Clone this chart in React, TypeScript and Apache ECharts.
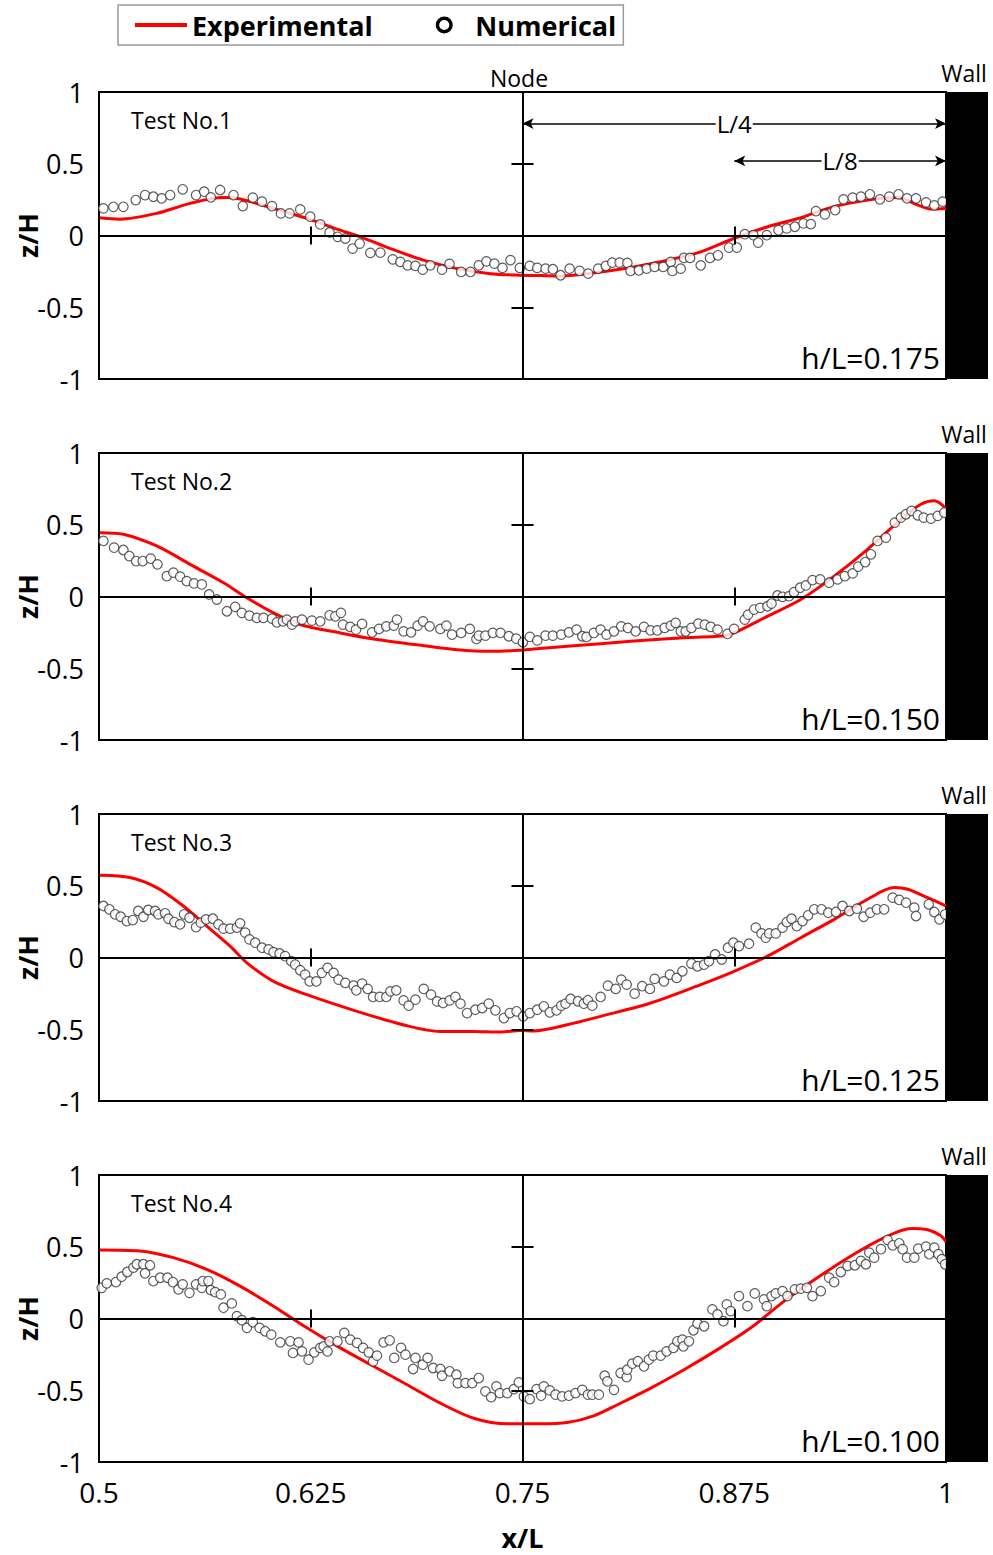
import React, { useEffect, useRef } from "react";
import * as echarts from "echarts";

const FONT = "'Open Sans', 'Noto Sans', sans-serif";

const xTicks = [0.5, 0.625, 0.75, 0.875, 1];
const yTicks = [-1, -0.5, 0, 0.5, 1];
const testLabels = ["Test No.1", "Test No.2", "Test No.3", "Test No.4"];
const ratioLabels = ["h/L=0.175", "h/L=0.150", "h/L=0.125", "h/L=0.100"];

const exp1 = [
  [0.5006, 0.124], [0.5124, 0.114], [0.5341, 0.154], [0.5538, 0.224], [0.5733, 0.264], [0.5833, 0.254],
  [0.6028, 0.189], [0.6228, 0.119], [0.6424, 0.037], [0.6543, -0.009], [0.672, -0.091], [0.6915, -0.172],
  [0.7114, -0.231], [0.7311, -0.266], [0.7488, -0.277], [0.7606, -0.279], [0.7725, -0.282], [0.7961, -0.254],
  [0.8156, -0.219], [0.8357, -0.172], [0.8552, -0.114], [0.8747, -0.021], [0.8948, 0.061], [0.9143, 0.124],
  [0.9338, 0.201], [0.9539, 0.247], [0.9716, 0.264], [0.9835, 0.212], [0.9911, 0.184], [1.0, 0.189],
];
const num1 = [
  [0.5026, 0.189], [0.5085, 0.2], [0.5144, 0.2], [0.5217, 0.247], [0.5272, 0.282], [0.5321, 0.27], [0.537, 0.259],
  [0.542, 0.282], [0.5494, 0.322], [0.5573, 0.282], [0.5621, 0.305], [0.566, 0.266], [0.5715, 0.317], [0.5794, 0.282],
  [0.5849, 0.205], [0.5908, 0.264], [0.5962, 0.236], [0.6021, 0.205], [0.6074, 0.154], [0.6125, 0.154], [0.6188, 0.182],
  [0.6247, 0.131], [0.6306, 0.077], [0.6361, 0.021], [0.6409, -0.009], [0.6454, -0.021], [0.6497, -0.091], [0.6539, -0.056],
  [0.6602, -0.121], [0.6661, -0.119], [0.6734, -0.166], [0.6779, -0.184], [0.6822, -0.208], [0.6868, -0.212], [0.6911, -0.238],
  [0.6956, -0.208], [0.7025, -0.238], [0.7069, -0.198], [0.7138, -0.254], [0.7193, -0.254], [0.7242, -0.208], [0.7287, -0.18],
  [0.7334, -0.196], [0.7382, -0.226], [0.7429, -0.172], [0.7484, -0.226], [0.7543, -0.212], [0.7587, -0.226], [0.7636, -0.231],
  [0.7679, -0.235], [0.7725, -0.277], [0.7778, -0.231], [0.7837, -0.247], [0.7888, -0.266], [0.7947, -0.231], [0.7992, -0.212],
  [0.803, -0.189], [0.8073, -0.189], [0.8119, -0.191], [0.8138, -0.247], [0.8187, -0.243], [0.8233, -0.231], [0.828, -0.219],
  [0.8331, -0.219], [0.8375, -0.184], [0.8385, -0.247], [0.8434, -0.231], [0.8453, -0.156], [0.8489, -0.156], [0.8552, -0.208],
  [0.8607, -0.156], [0.8654, -0.138], [0.8719, -0.084], [0.8765, -0.084], [0.8812, 0.009], [0.8863, 0.002], [0.8891, -0.049],
  [0.8942, 0.002], [0.9011, 0.037], [0.906, 0.049], [0.9108, 0.061], [0.9159, 0.084], [0.9202, 0.079], [0.9232, 0.17],
  [0.9285, 0.147], [0.9346, 0.177], [0.9395, 0.252], [0.9449, 0.264], [0.9498, 0.271], [0.9551, 0.287], [0.961, 0.252],
  [0.9665, 0.271], [0.972, 0.287], [0.977, 0.259], [0.9823, 0.259], [0.9882, 0.231], [0.9931, 0.21], [0.998, 0.236],
];

const exp2 = [
  [0.5006, 0.445], [0.5144, 0.434], [0.5341, 0.352], [0.5538, 0.224], [0.5735, 0.096], [0.5873, -0.009],
  [0.603, -0.114], [0.6188, -0.196], [0.6424, -0.254], [0.6621, -0.296], [0.6917, -0.343], [0.7114, -0.371],
  [0.7311, -0.382], [0.7488, -0.375], [0.7567, -0.366], [0.7961, -0.329], [0.8355, -0.294], [0.869, -0.273],
  [0.8749, -0.254], [0.8946, -0.138], [0.9143, -0.021], [0.934, 0.142], [0.9537, 0.329], [0.9734, 0.538],
  [0.9852, 0.643], [0.9931, 0.667], [1.0, 0.613],
];
const num2 = [
  [0.5026, 0.387], [0.5089, 0.34], [0.5144, 0.324], [0.5179, 0.282], [0.5219, 0.247], [0.5258, 0.247], [0.5305, 0.264],
  [0.5345, 0.224], [0.54, 0.142], [0.5439, 0.166], [0.5479, 0.138], [0.5518, 0.107], [0.5561, 0.091], [0.5607, 0.084],
  [0.565, 0.014], [0.5696, -0.021], [0.5755, -0.103], [0.5804, -0.072], [0.5843, -0.114], [0.5888, -0.133], [0.5932, -0.149],
  [0.5971, -0.149], [0.6021, -0.154], [0.605, -0.18], [0.6086, -0.173], [0.6109, -0.161], [0.6139, -0.196], [0.6158, -0.173],
  [0.6198, -0.161], [0.6257, -0.168], [0.6306, -0.173], [0.6361, -0.131], [0.6395, -0.138], [0.6428, -0.114], [0.644, -0.196],
  [0.6483, -0.212], [0.6517, -0.231], [0.6553, -0.191], [0.6612, -0.25], [0.6653, -0.226], [0.6696, -0.208], [0.674, -0.203],
  [0.6759, -0.161], [0.6798, -0.243], [0.6842, -0.25], [0.6881, -0.203], [0.6913, -0.173], [0.6952, -0.208], [0.7015, -0.226],
  [0.7051, -0.203], [0.7084, -0.266], [0.7138, -0.254], [0.7189, -0.226], [0.7228, -0.296], [0.7242, -0.273], [0.7281, -0.273],
  [0.7325, -0.254], [0.737, -0.254], [0.7419, -0.277], [0.7463, -0.294], [0.7502, -0.319], [0.7543, -0.282], [0.7587, -0.306],
  [0.7636, -0.273], [0.7679, -0.273], [0.7729, -0.266], [0.7774, -0.25], [0.7819, -0.231], [0.7853, -0.277], [0.7878, -0.282],
  [0.7921, -0.254], [0.7961, -0.231], [0.7996, -0.266], [0.804, -0.243], [0.8083, -0.208], [0.8122, -0.219], [0.8168, -0.243],
  [0.8217, -0.212], [0.8256, -0.236], [0.8296, -0.236], [0.8339, -0.219], [0.8375, -0.203], [0.8404, -0.184], [0.8434, -0.243],
  [0.8463, -0.243], [0.8497, -0.219], [0.8538, -0.189], [0.8576, -0.196], [0.8611, -0.212], [0.8651, -0.231], [0.871, -0.261],
  [0.8749, -0.226], [0.8812, -0.161], [0.8832, -0.126], [0.8867, -0.091], [0.8903, -0.079], [0.8946, -0.068], [0.897, -0.049],
  [0.9005, 0.007], [0.9035, -0.002], [0.9074, 0.002], [0.9103, 0.03], [0.9139, 0.061], [0.9173, 0.077], [0.9212, 0.114],
  [0.9257, 0.119], [0.931, 0.096], [0.936, 0.119], [0.9403, 0.142], [0.9449, 0.161], [0.9482, 0.208], [0.9523, 0.24],
  [0.9557, 0.294], [0.9596, 0.387], [0.9645, 0.41], [0.9698, 0.515], [0.9734, 0.55], [0.9763, 0.573], [0.9797, 0.597],
  [0.9833, 0.566], [0.9868, 0.55], [0.9911, 0.543], [0.9951, 0.562], [0.999, 0.585],
];

const exp3 = [
  [0.5006, 0.573], [0.5183, 0.557], [0.5341, 0.487], [0.5498, 0.359], [0.5636, 0.219], [0.5774, 0.079],
  [0.5873, -0.037], [0.603, -0.166], [0.6227, -0.259], [0.6523, -0.375], [0.6819, -0.476], [0.7015, -0.515],
  [0.7212, -0.515], [0.737, -0.52], [0.7488, -0.508], [0.7567, -0.512], [0.7764, -0.469], [0.7961, -0.41],
  [0.8257, -0.317], [0.8552, -0.189], [0.8749, -0.096], [0.8946, 0.009], [0.9143, 0.138], [0.934, 0.266],
  [0.9537, 0.406], [0.9695, 0.487], [0.9774, 0.476], [0.9892, 0.417], [1.0, 0.359],
];
const num3 = [
  [0.5026, 0.359], [0.5061, 0.336], [0.5095, 0.301], [0.5128, 0.284], [0.5164, 0.254], [0.5199, 0.261], [0.5232, 0.324],
  [0.5262, 0.284], [0.5291, 0.331], [0.5331, 0.324], [0.535, 0.301], [0.539, 0.308], [0.541, 0.27], [0.5445, 0.247],
  [0.5479, 0.231], [0.5502, 0.301], [0.5534, 0.277], [0.5573, 0.212], [0.5601, 0.243], [0.5632, 0.266], [0.5672, 0.27],
  [0.5705, 0.231], [0.5735, 0.201], [0.5774, 0.201], [0.5814, 0.208], [0.5833, 0.238], [0.5863, 0.173], [0.5888, 0.126],
  [0.5922, 0.103], [0.5962, 0.068], [0.6001, 0.056], [0.603, 0.037], [0.6066, 0.028], [0.6099, 0.009], [0.6135, -0.026],
  [0.6158, -0.049], [0.6188, -0.089], [0.6217, -0.119], [0.6243, -0.166], [0.6283, -0.166], [0.6316, -0.107], [0.6349, -0.072],
  [0.6385, -0.107], [0.6414, -0.154], [0.6454, -0.177], [0.6503, -0.196], [0.6519, -0.229], [0.6553, -0.182], [0.6586, -0.219],
  [0.6618, -0.275], [0.6657, -0.275], [0.6696, -0.275], [0.672, -0.236], [0.6755, -0.229], [0.6798, -0.299], [0.6828, -0.336],
  [0.6868, -0.294], [0.6917, -0.219], [0.696, -0.259], [0.6996, -0.306], [0.7031, -0.317], [0.707, -0.299], [0.7104, -0.275],
  [0.7134, -0.322], [0.7173, -0.387], [0.7222, -0.364], [0.7262, -0.352], [0.7301, -0.322], [0.734, -0.368], [0.739, -0.422],
  [0.7425, -0.387], [0.7465, -0.375], [0.7504, -0.41], [0.7543, -0.387], [0.7587, -0.364], [0.7626, -0.34], [0.7661, -0.382],
  [0.7701, -0.368], [0.7729, -0.336], [0.7754, -0.322], [0.7784, -0.289], [0.7827, -0.305], [0.7862, -0.322], [0.7886, -0.298],
  [0.7912, -0.336], [0.7961, -0.275], [0.8004, -0.196], [0.805, -0.219], [0.8083, -0.154], [0.8115, -0.189], [0.8162, -0.252],
  [0.8207, -0.2], [0.8252, -0.219], [0.828, -0.149], [0.8335, -0.166], [0.837, -0.119], [0.841, -0.142], [0.8444, -0.096],
  [0.8497, -0.042], [0.8533, -0.061], [0.8572, -0.049], [0.8601, -0.026], [0.8637, 0.021], [0.8676, -0.014], [0.8713, 0.068],
  [0.8745, 0.103], [0.8778, 0.079], [0.8837, 0.096], [0.8877, 0.208], [0.8911, 0.168], [0.8936, 0.138], [0.8956, 0.168],
  [0.8995, 0.168], [0.9035, 0.208], [0.906, 0.247], [0.9088, 0.27], [0.9119, 0.219], [0.9153, 0.254], [0.9186, 0.294],
  [0.9222, 0.336], [0.9265, 0.336], [0.9305, 0.312], [0.935, 0.317], [0.9389, 0.359], [0.9429, 0.324], [0.9474, 0.34],
  [0.9514, 0.284], [0.9553, 0.312], [0.9592, 0.336], [0.9635, 0.336], [0.9685, 0.417], [0.9724, 0.401], [0.9764, 0.382],
  [0.9813, 0.347], [0.9823, 0.289], [0.9898, 0.371], [0.9931, 0.317], [0.9961, 0.266], [0.9995, 0.301],
];

const exp4 = [
  [0.5006, 0.478], [0.5242, 0.471], [0.5439, 0.424], [0.5636, 0.343], [0.5833, 0.226], [0.603, 0.086],
  [0.6227, -0.065], [0.6424, -0.205], [0.6621, -0.333], [0.6819, -0.462], [0.7015, -0.59], [0.7212, -0.695],
  [0.741, -0.734], [0.7606, -0.734], [0.7764, -0.725], [0.7921, -0.678], [0.806, -0.601], [0.8257, -0.485],
  [0.8453, -0.357], [0.8651, -0.217], [0.8848, -0.065], [0.9045, 0.121], [0.9242, 0.285], [0.9439, 0.436],
  [0.9636, 0.564], [0.9793, 0.627], [0.9892, 0.618], [0.997, 0.576], [1.0, 0.534],
];
const num4 = [
  [0.5016, 0.214], [0.5046, 0.245], [0.51, 0.254], [0.5134, 0.291], [0.5167, 0.324], [0.5203, 0.355], [0.5223, 0.378],
  [0.5262, 0.378], [0.5272, 0.315], [0.5301, 0.371], [0.5321, 0.261], [0.5361, 0.284], [0.5404, 0.284], [0.5436, 0.254],
  [0.5469, 0.203], [0.5494, 0.238], [0.5534, 0.179], [0.5573, 0.238], [0.5607, 0.214], [0.5613, 0.261], [0.5646, 0.261],
  [0.566, 0.198], [0.5686, 0.184], [0.5719, 0.168], [0.5735, 0.075], [0.5784, 0.105], [0.5814, 0.016], [0.5843, -0.012],
  [0.5873, -0.065], [0.5908, -0.026], [0.5948, -0.065], [0.5981, -0.089], [0.6017, -0.112], [0.607, -0.166], [0.6129, -0.159],
  [0.6145, -0.24], [0.6178, -0.166], [0.6198, -0.229], [0.6237, -0.287], [0.6271, -0.236], [0.6306, -0.205], [0.6326, -0.194],
  [0.6349, -0.229], [0.6361, -0.159], [0.6408, -0.159], [0.6448, -0.1], [0.6483, -0.147], [0.6523, -0.17], [0.6559, -0.205],
  [0.6592, -0.236], [0.6618, -0.299], [0.6641, -0.259], [0.668, -0.166], [0.6716, -0.152], [0.6743, -0.275], [0.6783, -0.205],
  [0.6809, -0.252], [0.6854, -0.352], [0.6868, -0.275], [0.6911, -0.322], [0.694, -0.275], [0.6972, -0.345], [0.7015, -0.352],
  [0.7025, -0.399], [0.707, -0.368], [0.711, -0.392], [0.7118, -0.45], [0.7163, -0.45], [0.7203, -0.45], [0.7242, -0.415],
  [0.7281, -0.508], [0.7315, -0.548], [0.7346, -0.473], [0.7366, -0.52], [0.741, -0.52], [0.7449, -0.492], [0.7478, -0.445],
  [0.7508, -0.543], [0.7543, -0.562], [0.7583, -0.492], [0.761, -0.538], [0.7626, -0.473], [0.7661, -0.501], [0.7695, -0.531],
  [0.7734, -0.543], [0.7774, -0.538], [0.7813, -0.52], [0.7853, -0.497], [0.7886, -0.531], [0.7912, -0.531], [0.7951, -0.531],
  [0.7985, -0.399], [0.8001, -0.438], [0.804, -0.497], [0.8079, -0.38], [0.8115, -0.408], [0.8118, -0.357], [0.8148, -0.315],
  [0.8181, -0.298], [0.8217, -0.333], [0.8246, -0.287], [0.8272, -0.259], [0.8316, -0.259], [0.8351, -0.229], [0.8391, -0.205],
  [0.8414, -0.159], [0.8444, -0.147], [0.845, -0.194], [0.8483, -0.159], [0.8509, -0.082], [0.8533, -0.035], [0.8572, -0.054],
  [0.8621, 0.063], [0.8651, 0.028], [0.8686, -0.019], [0.8706, 0.098], [0.8729, 0.051], [0.8778, 0.156], [0.8828, 0.086],
  [0.8871, 0.175], [0.8926, 0.133], [0.8942, 0.086], [0.897, 0.156], [0.8995, 0.175], [0.9035, 0.191], [0.9064, 0.156],
  [0.9108, 0.203], [0.9143, 0.208], [0.9179, 0.214], [0.9212, 0.156], [0.9261, 0.191], [0.931, 0.285], [0.934, 0.254],
  [0.9379, 0.324], [0.9419, 0.366], [0.9462, 0.371], [0.9498, 0.401], [0.9527, 0.378], [0.9547, 0.459], [0.9576, 0.424],
  [0.9616, 0.483], [0.9655, 0.548], [0.9685, 0.51], [0.9724, 0.524], [0.9744, 0.483], [0.977, 0.424], [0.9813, 0.424],
  [0.9836, 0.487], [0.9882, 0.501], [0.9901, 0.448], [0.9931, 0.494], [0.9955, 0.448], [0.9975, 0.413], [0.9995, 0.378],
];

const expSeries = [exp1, exp2, exp3, exp4];
const numSeries = [num1, num2, num3, num4];

const GRID_LEFT = 99;
const GRID_W = 847;
const GRID_H = 287;
const GRID_TOPS = [92, 453, 814, 1175];

const RING_ICON =
  "path://M9,0 A9,9 0 1,1 9,18 A9,9 0 1,1 9,0 Z M9,3.6 A5.4,5.4 0 1,0 9,14.4 A5.4,5.4 0 1,0 9,3.6 Z";

export default function App() {
  const ref = useRef<HTMLDivElement>(null);

  useEffect(() => {
    if (!ref.current) return;
    const chart = echarts.init(ref.current, undefined, { renderer: "svg" });

    const grids = GRID_TOPS.map((t) => ({
      left: GRID_LEFT,
      top: t,
      width: GRID_W,
      height: GRID_H,
      show: true,
      borderColor: "#000",
      borderWidth: 2,
      backgroundColor: "transparent",
      containLabel: false,
      outerBoundsMode: "none",
    }));

    const xAxes = GRID_TOPS.map((_, i) => ({
      type: "value",
      gridIndex: i,
      min: xTicks[0],
      max: xTicks[xTicks.length - 1],
      interval: 0.125,
      axisLine: { show: false },
      axisTick: { show: false },
      splitLine: { show: false },
      axisLabel: {
        show: i === 3,
        fontSize: 28,
        color: "#000",
        margin: 16,
        fontFamily: FONT,
      },
      name: i === 3 ? "x/L" : "",
      nameLocation: "middle",
      nameGap: 62,
      nameMoveOverlap: false,
      nameTextStyle: { fontSize: 27, fontWeight: "bold", color: "#000", fontFamily: FONT },
    }));

    const yAxes = GRID_TOPS.map((_, i) => ({
      type: "value",
      gridIndex: i,
      min: yTicks[0],
      max: yTicks[yTicks.length - 1],
      interval: 0.5,
      axisLine: { show: false },
      axisTick: { show: false },
      splitLine: { show: false },
      axisLabel: { fontSize: 27, color: "#000", margin: 15, fontFamily: FONT },
      name: "z/H",
      nameLocation: "middle",
      nameGap: 58,
      nameMoveOverlap: false,
      nameTextStyle: { fontSize: 27, fontWeight: "bold", color: "#000", fontFamily: FONT },
    }));

    const crossLines = [
      { xAxis: 0.75 },
      { yAxis: 0 },
      [{ coord: [0.625, -0.063] }, { coord: [0.625, 0.063] }],
      [{ coord: [0.875, -0.063] }, { coord: [0.875, 0.063] }],
      [{ coord: [0.7435, 0.5] }, { coord: [0.7565, 0.5] }],
      [{ coord: [0.7435, -0.5] }, { coord: [0.7565, -0.5] }],
    ];

    const series: any[] = [];
    GRID_TOPS.forEach((_, i) => {
      series.push({
        type: "line",
        name: "Experimental",
        xAxisIndex: i,
        yAxisIndex: i,
        data: expSeries[i],
        smooth: 0.3,
        symbol: "none",
        showSymbol: false,
        lineStyle: { color: "#f00", width: 3 },
        itemStyle: { color: "#f00" },
        z: 2,
        silent: true,
        markLine: {
          silent: true,
          symbol: ["none", "none"],
          label: { show: false },
          lineStyle: { color: "#000", width: 2, type: "solid" },
          emphasis: { disabled: true },
          data: crossLines,
        },
      });
      const scatter: any = {
        type: "scatter",
        name: "Numerical",
        xAxisIndex: i,
        yAxisIndex: i,
        data: numSeries[i],
        symbol: "circle",
        symbolSize: 9.5,
        itemStyle: { color: "#fff", borderColor: "#333", borderWidth: 1.2 },
        z: 3,
        silent: true,
      };
      if (i === 0) {
        scatter.markLine = {
          silent: true,
          symbol: ["arrow", "arrow"],
          symbolSize: [8, 11],
          lineStyle: { color: "#000", width: 1.5, type: "solid" },
          label: {
            show: true,
            position: "middle",
            distance: 0,
            verticalAlign: "middle",
            formatter: "{b}",
            fontSize: 24,
            color: "#000",
            fontFamily: FONT,
            backgroundColor: "#fff",
            padding: [0, 1],
          },
          emphasis: { disabled: true },
          data: [
            [{ name: "L/4", coord: [0.75, 0.78] }, { coord: [1, 0.78] }],
            [{ name: "L/8", coord: [0.875, 0.52] }, { coord: [1, 0.52] }],
          ],
        };
      }
      series.push(scatter);
    });

    const graphics: any[] = [
      {
        type: "text",
        x: 519,
        y: 78,
        style: { text: "Node", fontSize: 23, fontFamily: FONT, fill: "#000", align: "center", verticalAlign: "middle" },
      },
    ];
    GRID_TOPS.forEach((t, i) => {
      graphics.push({
        type: "rect",
        shape: { x: GRID_LEFT + GRID_W, y: t, width: 42, height: GRID_H },
        style: { fill: "#000" },
        z: 10,
      });
      graphics.push({
        type: "text",
        x: 964,
        y: t - 19,
        style: { text: "Wall", fontSize: 23, fontFamily: FONT, fill: "#000", align: "center", verticalAlign: "middle" },
        z: 10,
      });
      graphics.push({
        type: "text",
        x: 131,
        y: t + 28,
        style: { text: testLabels[i], fontSize: 23, fontFamily: FONT, fill: "#000", align: "left", verticalAlign: "middle" },
        z: 10,
      });
      graphics.push({
        type: "text",
        x: 940,
        y: t + GRID_H - 22,
        style: { text: ratioLabels[i], fontSize: 30, fontFamily: FONT, fill: "#000", align: "right", verticalAlign: "middle" },
        z: 10,
      });
    });

    chart.setOption({
      animation: false,
      backgroundColor: "#fff",
      textStyle: { fontFamily: FONT },
      legend: {
        left: 118,
        top: 5,
        orient: "horizontal",
        itemWidth: 52,
        itemHeight: 17,
        itemGap: 63,
        borderColor: "#999",
        borderWidth: 1.5,
        padding: [2, 7, 2, 15],
        selectedMode: false,
        symbolKeepAspect: true,
        textStyle: { fontSize: 27, fontWeight: "bold", color: "#000", fontFamily: FONT, lineHeight: 36 },
        data: [
          { name: "Experimental", itemStyle: { opacity: 0 }, lineStyle: { width: 4, color: "#f00" } },
          { name: "Numerical", icon: RING_ICON, itemStyle: { color: "#000", borderWidth: 0, opacity: 1 } },
        ],
      },
      grid: grids,
      xAxis: xAxes,
      yAxis: yAxes,
      series,
      graphic: graphics,
    });

    return () => chart.dispose();
  }, []);

  return (
    <div
      ref={ref}
      style={{ position: "absolute", left: 0, top: 0, width: 993, height: 1555, background: "#fff" }}
    />
  );
}
